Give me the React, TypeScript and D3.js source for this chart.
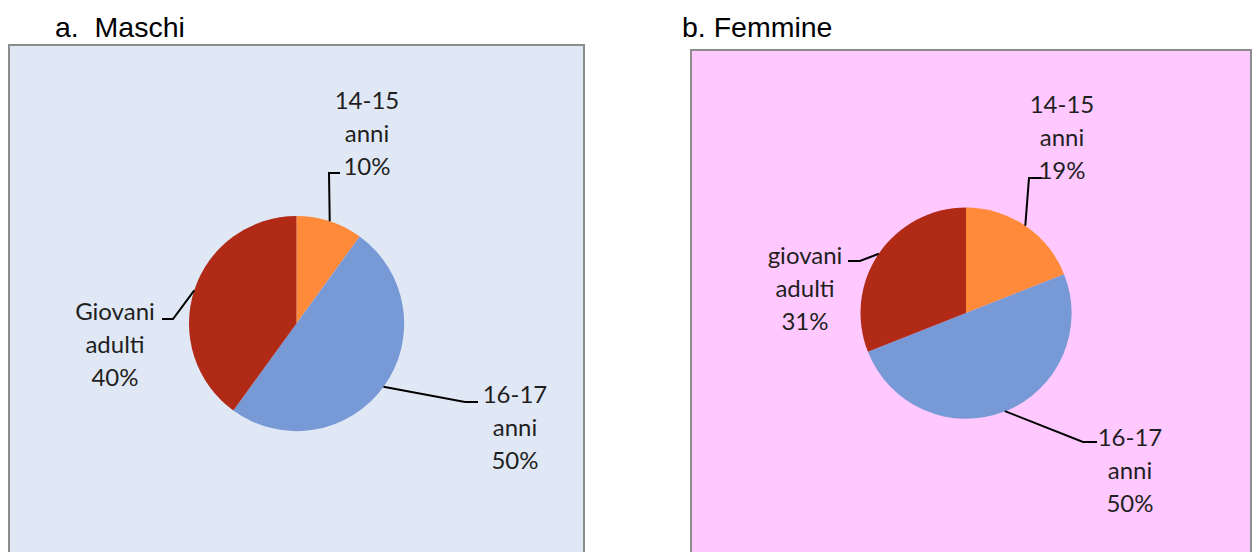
import React from "react";
import * as d3 from "d3";

const panelTitles = ["a.  Maschi", "b. Femmine"];
const categories = ["14-15 anni", "16-17 anni", "Giovani adulti"];
const maschiValues = [10, 50, 40];
const femmineValues = [19, 50, 31];
const maschiLabels = [["14-15", "anni", "10%"], ["16-17", "anni", "50%"], ["Giovani", "adulti", "40%"]];
const femmineLabels = [["14-15", "anni", "19%"], ["16-17", "anni", "50%"], ["giovani", "adulti", "31%"]];
const sliceColors = ["#FF8B3A", "#7799D6", "#B02A16"];

type Layout = {
  box: [number, number, number, number];
  fill: string;
  titleX: number;
  titleY: number;
  cx: number;
  cy: number;
  r: number;
  elbows: [number, number, number][]; // elbowX, elbowY, endX
  labelPos: [number, number][]; // center x, first baseline
};

const layouts: Layout[] = [
  {
    box: [9, 45, 584, 600],
    fill: "#E1E8F5",
    titleX: 55,
    titleY: 37,
    cx: 296.5,
    cy: 323.5,
    r: 107.5,
    elbows: [
      [329, 173, 340],
      [465, 402, 478],
      [173, 319, 162],
    ],
    labelPos: [
      [367, 109],
      [515, 403],
      [115, 320],
    ],
  },
  {
    box: [691, 50, 1251, 600],
    fill: "#FFC9FF",
    titleX: 682,
    titleY: 37,
    cx: 966,
    cy: 313,
    r: 105.5,
    elbows: [
      [1029, 178, 1042],
      [1083, 442, 1097],
      [860, 261, 848],
    ],
    labelPos: [
      [1062, 113],
      [1130, 446],
      [805, 264],
    ],
  },
];

const allValues = [maschiValues, femmineValues];
const allLabels = [maschiLabels, femmineLabels];

function Panel({ idx }: { idx: number }) {
  const L = layouts[idx];
  const values = allValues[idx];
  const labels = allLabels[idx];
  const pie = d3
    .pie<number>()
    .sort(null)
    .value((d) => d)(values);
  const arc = d3.arc<d3.PieArcDatum<number>>().innerRadius(0).outerRadius(L.r);
  const [x0, y0, x1, y1] = L.box;
  return (
    <g>
      <text
        x={L.titleX}
        y={L.titleY}
        fontFamily="'Liberation Sans', Arial, sans-serif"
        fontSize={28.5}
        fill="#000"
        style={{ whiteSpace: "pre" }}
      >
        {panelTitles[idx]}
      </text>
      <rect x={x0} y={y0} width={x1 - x0} height={y1 - y0} fill={L.fill} stroke="#8C8C8C" strokeWidth={2} />
      <g transform={`translate(${L.cx},${L.cy})`}>
        {pie.map((p, i) => (
          <path key={categories[i]} d={arc(p) || ""} fill={sliceColors[i]} stroke="none" />
        ))}
      </g>
      {pie.map((p, i) => {
        const mid = (p.startAngle + p.endAngle) / 2;
        const sx = L.cx + Math.sin(mid) * L.r;
        const sy = L.cy - Math.cos(mid) * L.r;
        const [ex, ey, endX] = L.elbows[i];
        const line = d3.line()([
          [sx, sy],
          [ex, ey],
          [endX, ey],
        ]);
        return <path key={"l" + i} d={line || ""} fill="none" stroke="#000" strokeWidth={2} />;
      })}
      {labels.map((lines, i) => (
        <text
          key={"t" + i}
          textAnchor="middle"
          fontFamily="Lato, 'Open Sans', sans-serif"
          fontSize={24}
          fill="#1f1f1f"
        >
          {lines.map((s, j) => (
            <tspan key={j} x={L.labelPos[i][0]} y={L.labelPos[i][1] + j * 33}>
              {s}
            </tspan>
          ))}
        </text>
      ))}
    </g>
  );
}

export default function App() {
  return (
    <svg
      width={1252}
      height={552}
      viewBox="0 0 1252 552"
      style={{ position: "absolute", left: 0, top: 0, background: "#fff" }}
    >
      <rect x={0} y={0} width={1252} height={552} fill="#fff" />
      <Panel idx={0} />
      <Panel idx={1} />
    </svg>
  );
}
